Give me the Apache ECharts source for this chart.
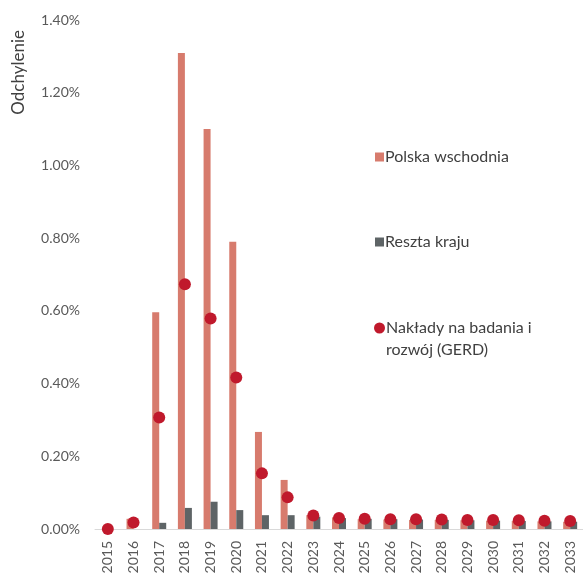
<!DOCTYPE html>
<html>
<head>
<meta charset="utf-8">
<script src="https://cdn.jsdelivr.net/npm/echarts@6/dist/echarts.min.js"></script>
<style>
  html, body { margin: 0; padding: 0; background: #fff; }
  #chart { width: 583px; height: 583px; }
</style>
</head>
<body>
<div id="chart"></div>
<script>
// Years on the category axis
var years = ['2015','2016','2017','2018','2019','2020','2021','2022','2023','2024',
             '2025','2026','2027','2028','2029','2030','2031','2032','2033'];

// Deviation in percent
var polskaWschodnia = [0.000, 0.028, 0.596, 1.309, 1.100, 0.790, 0.267, 0.135, 0.038, 0.032,
                       0.027, 0.026, 0.025, 0.025, 0.024, 0.023, 0.022, 0.021, 0.020];
var resztaKraju     = [0.000, 0.000, 0.017, 0.058, 0.075, 0.052, 0.038, 0.038, 0.034, 0.030,
                       0.028, 0.027, 0.026, 0.025, 0.024, 0.023, 0.022, 0.021, 0.020];
var gerd            = [0.000, 0.018, 0.307, 0.673, 0.579, 0.417, 0.153, 0.087, 0.037, 0.030,
                       0.028, 0.027, 0.027, 0.026, 0.025, 0.025, 0.024, 0.023, 0.022];

var seriesNames = ['Polska wschodnia', 'Reszta kraju', 'Nakłady na badania i rozwój (GERD)'];
var yAxisTitle = 'Odchylenie';

var FONT = 'Lato, "Open Sans", sans-serif';
var TEXT_COLOR = '#404040';
var LEGEND_SIZE = 16;
var chart = echarts.init(document.getElementById('chart'), null, { renderer: 'canvas' });

chart.setOption({
  animation: false,
  backgroundColor: '#ffffff',
  grid: { left: 95, right: -3, top: 20, bottom: 54, containLabel: false },
  legend: [
    {
      // bar series
      orient: 'vertical',
      left: 375,
      top: 146,
      padding: 0,
      itemGap: 63,
      itemWidth: 9,
      itemHeight: 9,
      textStyle: { fontFamily: FONT, fontSize: LEGEND_SIZE, color: TEXT_COLOR, lineHeight: 22, padding: [0, 0, 0, -4] },
      data: [
        { name: seriesNames[0], icon: 'rect' },
        { name: seriesNames[1], icon: 'rect' }
      ]
    },
    {
      // R&D spending, wrapped over two lines with the marker beside the first line
      orient: 'vertical',
      left: 374,
      top: 295,
      padding: 0,
      itemWidth: 11,
      itemHeight: 11,
      formatter: function () {
        return '{a|Nakłady na badania i}\n{a|rozwój (GERD)}';
      },
      textStyle: {
        fontFamily: FONT, fontSize: LEGEND_SIZE, color: TEXT_COLOR, lineHeight: 22, padding: [22, 0, 0, -4],
        rich: { a: { fontFamily: FONT, fontSize: LEGEND_SIZE, color: TEXT_COLOR, lineHeight: 22 } }
      },
      data: [{ name: seriesNames[2], icon: 'circle' }]
    }
  ],
  xAxis: {
    type: 'category',
    data: years,
    axisLine: { show: true, lineStyle: { color: '#d9d9d9', width: 1 } },
    axisTick: { show: false },
    axisLabel: { rotate: 90, margin: 12, fontFamily: FONT, fontSize: 14, color: '#595959', interval: 0 }
  },
  yAxis: {
    type: 'value',
    min: 0,
    max: 1.4,
    interval: 0.2,
    splitLine: { show: false },
    axisLine: { show: false },
    axisTick: { show: false },
    axisLabel: {
      margin: 15, fontFamily: FONT, fontSize: 14, color: '#595959',
      formatter: function (v) { return v.toFixed(2) + '%'; }
    }
  },
  graphic: [{
    type: 'text',
    left: 10,
    top: 30,
    rotation: Math.PI / 2,
    style: { text: yAxisTitle, font: '17px ' + FONT, fill: TEXT_COLOR }
  }],
  series: [
    {
      name: seriesNames[0], type: 'bar', data: polskaWschodnia,
      barWidth: 7, barGap: '0%',
      itemStyle: { color: '#d77b6d' }
    },
    {
      name: seriesNames[1], type: 'bar', data: resztaKraju,
      barWidth: 7, barGap: '0%',
      itemStyle: { color: '#5e6466' }
    },
    {
      name: seriesNames[2], type: 'scatter', data: gerd,
      symbol: 'circle', symbolSize: 12, z: 5,
      itemStyle: { color: '#c0192c', opacity: 1 }
    }
  ]
});
</script>
</body>
</html>
